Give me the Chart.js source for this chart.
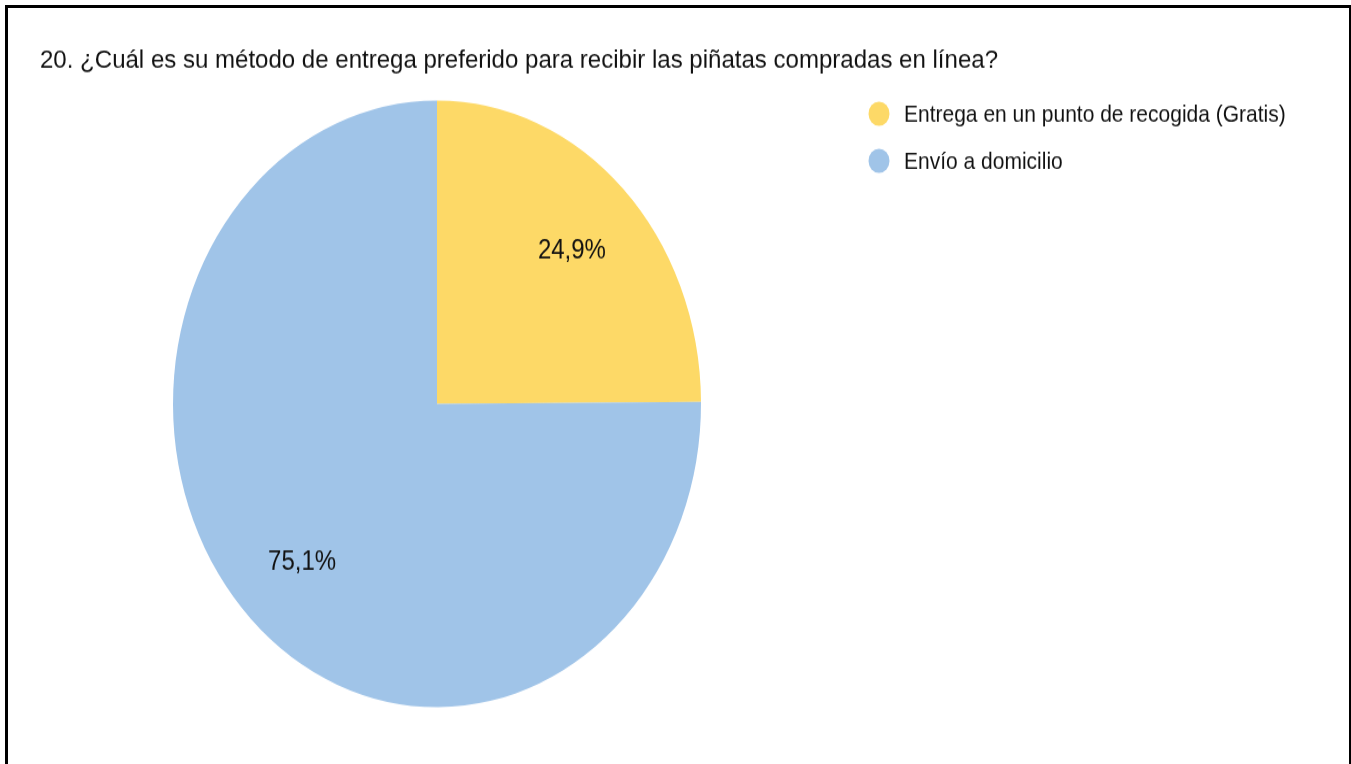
<!DOCTYPE html>
<html>
<head>
<meta charset="utf-8">
<title>Método de entrega preferido</title>
<script src="https://cdn.jsdelivr.net/npm/chart.js@4.4.1/dist/chart.umd.min.js"></script>
<style>
  html, body { margin: 0; padding: 0; background: #fff; overflow: hidden; }
  #frame {
    position: absolute; left: 5px; top: 5px;
    width: 1341px; height: 800px;
    border-top: 3px solid #000; border-left: 3px solid #000; border-right: 2px solid #000;
  }
  #chart { position: absolute; left: 0; top: 0; }
</style>
</head>
<body>
<div id="frame"></div>
<!-- drawn at 665px high, shown at 764px: the whole chart is stretched vertically -->
<canvas id="chart" width="1351" height="665" style="width:1351px;height:764px"></canvas>
<script>
const titleText = '20. ¿Cuál es su método de entrega preferido para recibir las piñatas compradas en línea?';
const categories = ['Entrega en un punto de recogida (Gratis)', 'Envío a domicilio'];
const percentages = [24.9, 75.1];
const sliceColors = ['#FDD967', '#A0C4E8'];

const FONT = '"Liberation Sans", Arial, sans-serif';
const formatPct = v => v.toFixed(1).replace('.', ',') + '%';

// percentage text inside each slice
const sliceLabels = {
  id: 'sliceLabels',
  afterDatasetsDraw(chart) {
    const { ctx } = chart;
    const meta = chart.getDatasetMeta(0);
    ctx.save();
    ctx.font = '24px ' + FONT;
    ctx.fillStyle = '#111';
    ctx.textAlign = 'center';
    ctx.textBaseline = 'middle';
    meta.data.forEach((arc, i) => {
      const { x, y, startAngle, endAngle, outerRadius } =
        arc.getProps(['x', 'y', 'startAngle', 'endAngle', 'outerRadius'], true);
      const mid = (startAngle + endAngle) / 2;
      const r = outerRadius * 0.725;
      ctx.fillText(formatPct(percentages[i]), x + Math.cos(mid) * r, y + Math.sin(mid) * r + 2.5);
    });
    ctx.restore();
  }
};

// title top-left and legend on the right (the built-in title would be squeezed to the chart width)
const headerAndLegend = {
  id: 'headerAndLegend',
  afterDraw(chart) {
    const { ctx } = chart;
    ctx.save();
    ctx.textBaseline = 'middle';
    ctx.fillStyle = '#111';

    // title is set a little wider than the font's natural width
    ctx.font = '22px ' + FONT;
    const titleWidth = 958;
    const sx = titleWidth / ctx.measureText(titleText).width;
    ctx.save();
    ctx.translate(40, 52.5);
    ctx.scale(sx, 1);
    ctx.fillText(titleText, 0, 0);
    ctx.restore();

    ctx.font = '21px ' + FONT;
    categories.forEach((name, i) => {
      const y = 99 + i * 41;
      ctx.fillStyle = sliceColors[i];
      ctx.beginPath();
      ctx.arc(879, y, 10.5, 0, Math.PI * 2);
      ctx.fill();
      ctx.fillStyle = '#111';
      ctx.fillText(name, 904, y + 1);
    });
    ctx.restore();
  }
};

new Chart(document.getElementById('chart'), {
  type: 'pie',
  data: {
    labels: categories,
    datasets: [{
      data: percentages,
      backgroundColor: sliceColors,
      borderWidth: 0,
      hoverOffset: 0
    }]
  },
  options: {
    responsive: false,
    animation: false,
    devicePixelRatio: 1,
    radius: 264,
    layout: { padding: { left: 38, right: 515, top: 73, bottom: 35 } },
    plugins: {
      legend: { display: false },
      tooltip: { enabled: false },
      title: { display: false }
    }
  },
  plugins: [sliceLabels, headerAndLegend]
});
</script>
</body>
</html>
